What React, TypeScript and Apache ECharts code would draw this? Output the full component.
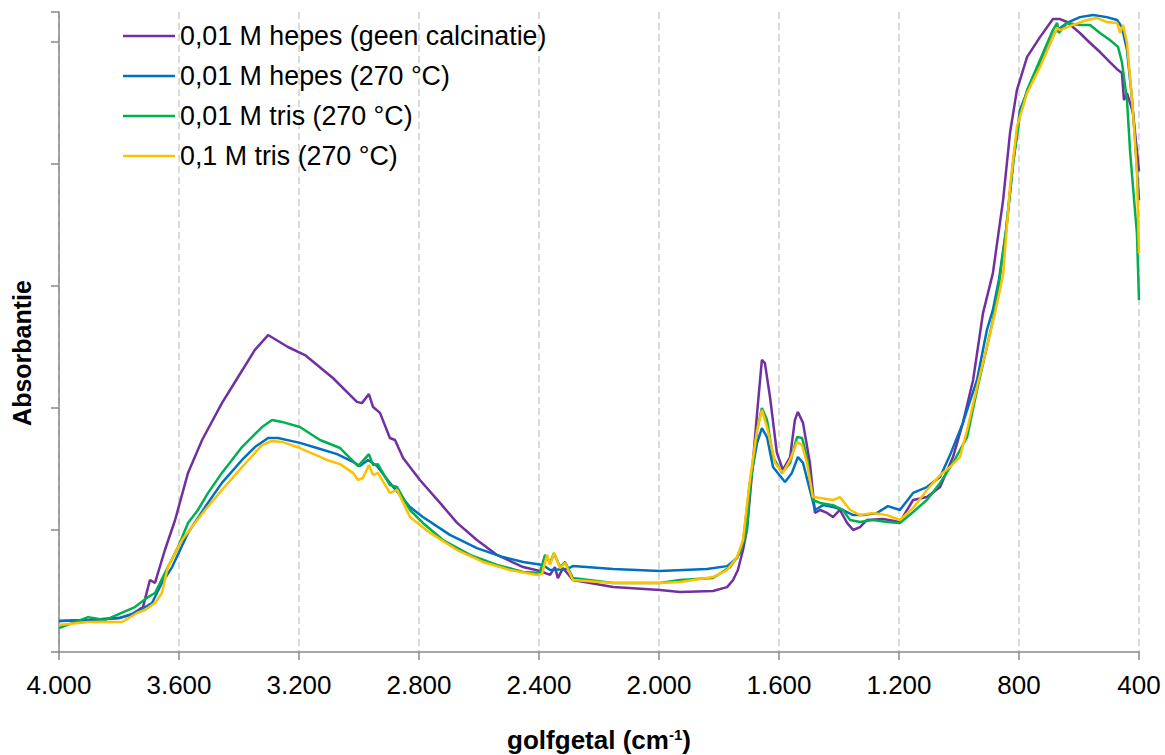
import React, { useEffect, useRef } from "react";
import * as echarts from "echarts";

const FONT = '"Liberation Sans", Arial, sans-serif';

const seriesNames = [
  "0,01 M hepes (geen calcinatie)",
  "0,01 M hepes (270 °C)",
  "0,01 M tris (270 °C)",
  "0,1 M tris (270 °C)",
];
const seriesColors = ["#7030A0", "#0070C0", "#00B050", "#FFC000"];

const xTicks = [4000, 3600, 3200, 2800, 2400, 2000, 1600, 1200, 800, 400];

// [wavenumber (cm-1), absorbance]
const hepesGeen: number[][] = [
  [4000, 0.127], [3900, 0.131], [3800, 0.139], [3760, 0.152], [3720, 0.184],
  [3697, 0.295], [3680, 0.283], [3647, 0.418], [3613, 0.541], [3570, 0.734],
  [3523, 0.869], [3457, 1.02], [3403, 1.127], [3347, 1.238], [3303, 1.299],
  [3237, 1.25], [3180, 1.217], [3087, 1.123], [3007, 1.025], [2990, 1.02],
  [2967, 1.057], [2953, 1.004], [2930, 0.98], [2897, 0.877], [2880, 0.869],
  [2853, 0.795], [2797, 0.705], [2730, 0.611], [2673, 0.529], [2607, 0.459],
  [2540, 0.398], [2453, 0.348], [2397, 0.332], [2363, 0.316], [2347, 0.348],
  [2337, 0.303], [2320, 0.344], [2287, 0.295], [2153, 0.266], [1997, 0.254],
  [1930, 0.246], [1820, 0.25], [1773, 0.266], [1753, 0.295], [1737, 0.336],
  [1720, 0.418], [1707, 0.5], [1697, 0.635], [1673, 0.98], [1657, 1.197],
  [1647, 1.184], [1630, 1.045], [1607, 0.816], [1587, 0.746], [1563, 0.799],
  [1547, 0.951], [1537, 0.984], [1520, 0.939], [1497, 0.775], [1480, 0.57],
  [1463, 0.582], [1440, 0.57], [1420, 0.553], [1397, 0.582], [1373, 0.529],
  [1353, 0.5], [1330, 0.512], [1307, 0.541], [1253, 0.545], [1197, 0.533],
  [1153, 0.623], [1107, 0.635], [1063, 0.676], [1020, 0.799], [987, 0.939],
  [953, 1.115], [920, 1.389], [887, 1.553], [853, 1.852], [830, 2.127],
  [807, 2.303], [773, 2.439], [730, 2.52], [687, 2.594], [663, 2.594],
  [640, 2.582], [597, 2.537], [563, 2.496], [530, 2.459], [497, 2.418],
  [470, 2.385], [457, 2.373], [450, 2.262], [440, 2.291], [420, 2.209],
  [407, 2.057], [400, 1.97],
];

const hepes270: number[][] = [
  [4000, 0.127], [3900, 0.131], [3800, 0.139], [3747, 0.16], [3690, 0.201],
  [3657, 0.283], [3623, 0.348], [3570, 0.488], [3513, 0.594], [3457, 0.693],
  [3390, 0.787], [3347, 0.84], [3303, 0.877], [3270, 0.877], [3197, 0.857],
  [3140, 0.836], [3073, 0.811], [3020, 0.779], [2997, 0.762], [2970, 0.787],
  [2940, 0.762], [2897, 0.693], [2830, 0.594], [2787, 0.553], [2697, 0.48],
  [2607, 0.426], [2520, 0.389], [2453, 0.369], [2387, 0.357], [2363, 0.336],
  [2307, 0.34], [2287, 0.352], [2153, 0.34], [1997, 0.332], [1840, 0.34],
  [1773, 0.352], [1740, 0.385], [1720, 0.447], [1697, 0.693], [1673, 0.857],
  [1657, 0.918], [1640, 0.881], [1620, 0.758], [1580, 0.697], [1557, 0.734],
  [1537, 0.799], [1520, 0.775], [1497, 0.664], [1480, 0.582], [1453, 0.602],
  [1420, 0.594], [1387, 0.582], [1353, 0.561], [1320, 0.561], [1273, 0.57],
  [1237, 0.598], [1197, 0.582], [1153, 0.652], [1107, 0.676], [1063, 0.717],
  [1030, 0.807], [987, 0.939], [940, 1.115], [907, 1.32], [887, 1.402],
  [867, 1.525], [843, 1.73], [820, 2.0], [797, 2.221], [753, 2.357],
  [707, 2.467], [680, 2.541], [640, 2.578], [597, 2.602], [553, 2.611],
  [507, 2.602], [473, 2.59], [457, 2.561], [440, 2.467], [423, 2.262],
  [413, 2.098], [400, 1.852],
];

const tris001: number[][] = [
  [4000, 0.098], [3903, 0.143], [3847, 0.131], [3747, 0.184], [3703, 0.225],
  [3680, 0.242], [3647, 0.324], [3603, 0.43], [3570, 0.529], [3537, 0.582],
  [3503, 0.652], [3457, 0.734], [3390, 0.84], [3323, 0.922], [3290, 0.951],
  [3257, 0.943], [3197, 0.922], [3130, 0.869], [3063, 0.836], [3003, 0.762],
  [2967, 0.811], [2953, 0.766], [2937, 0.77], [2897, 0.684], [2873, 0.676],
  [2830, 0.582], [2787, 0.529], [2720, 0.459], [2630, 0.398], [2540, 0.357],
  [2453, 0.328], [2397, 0.324], [2380, 0.398], [2363, 0.365], [2350, 0.406],
  [2330, 0.348], [2313, 0.369], [2287, 0.303], [2153, 0.283], [1997, 0.283],
  [1930, 0.295], [1820, 0.303], [1763, 0.348], [1730, 0.406], [1707, 0.5],
  [1697, 0.664], [1673, 0.91], [1657, 1.0], [1640, 0.951], [1620, 0.799],
  [1590, 0.734], [1563, 0.775], [1540, 0.881], [1523, 0.877], [1507, 0.799],
  [1487, 0.623], [1463, 0.611], [1420, 0.602], [1387, 0.582], [1363, 0.541],
  [1330, 0.533], [1287, 0.541], [1240, 0.533], [1197, 0.529], [1153, 0.574],
  [1107, 0.623], [1063, 0.693], [1020, 0.775], [973, 0.881], [940, 1.074],
  [907, 1.25], [887, 1.361], [867, 1.504], [843, 1.73], [820, 2.0],
  [797, 2.201], [773, 2.303], [730, 2.426], [687, 2.549], [673, 2.578],
  [667, 2.537], [640, 2.578], [597, 2.57], [563, 2.57], [530, 2.537],
  [497, 2.508], [470, 2.48], [457, 2.418], [440, 2.262], [430, 2.057],
  [420, 1.906], [407, 1.717], [400, 1.443],
];

const tris01: number[][] = [
  [4000, 0.111], [3903, 0.123], [3790, 0.123], [3740, 0.16], [3713, 0.172],
  [3680, 0.201], [3657, 0.242], [3637, 0.348], [3590, 0.459], [3557, 0.512],
  [3513, 0.582], [3457, 0.664], [3390, 0.758], [3323, 0.848], [3290, 0.865],
  [3257, 0.861], [3197, 0.836], [3107, 0.787], [3063, 0.77], [3020, 0.734],
  [3003, 0.705], [2987, 0.713], [2967, 0.766], [2953, 0.725], [2937, 0.734],
  [2897, 0.652], [2873, 0.664], [2830, 0.553], [2763, 0.488], [2673, 0.418],
  [2587, 0.369], [2497, 0.336], [2407, 0.316], [2390, 0.32], [2373, 0.398],
  [2363, 0.357], [2350, 0.406], [2330, 0.344], [2313, 0.365], [2287, 0.295],
  [2153, 0.283], [1997, 0.283], [1930, 0.287], [1820, 0.307], [1773, 0.336],
  [1740, 0.389], [1720, 0.459], [1697, 0.705], [1673, 0.91], [1657, 0.992],
  [1640, 0.922], [1613, 0.775], [1587, 0.734], [1563, 0.787], [1540, 0.861],
  [1523, 0.848], [1507, 0.775], [1487, 0.635], [1463, 0.631], [1420, 0.623],
  [1397, 0.635], [1363, 0.582], [1330, 0.561], [1287, 0.57], [1240, 0.561],
  [1197, 0.541], [1153, 0.59], [1107, 0.664], [1063, 0.725], [1030, 0.758],
  [997, 0.799], [973, 0.91], [940, 1.086], [907, 1.25], [880, 1.389],
  [853, 1.545], [830, 1.906], [807, 2.152], [773, 2.291], [730, 2.398],
  [687, 2.52], [673, 2.557], [663, 2.549], [620, 2.57], [573, 2.59],
  [540, 2.598], [507, 2.582], [473, 2.578], [463, 2.537], [453, 2.57],
  [440, 2.496], [423, 2.262], [413, 2.086], [407, 1.963], [400, 1.635],
];

const seriesData = [hepesGeen, hepes270, tris001, tris01];

function fmtWn(v: number): string {
  if (v >= 1000) {
    const th = Math.floor(v / 1000);
    const rest = String(Math.round(v % 1000)).padStart(3, "0");
    return `${th}.${rest}`;
  }
  return String(v);
}

export default function App() {
  const ref = useRef<HTMLDivElement>(null);
  useEffect(() => {
    if (!ref.current) return;
    const chart = echarts.init(ref.current, undefined, { renderer: "svg" });
    const axisColor = "#898989";
    chart.setOption({
      animation: false,
      backgroundColor: "#ffffff",
      textStyle: { fontFamily: FONT },
      grid: {
        left: 59,
        right: 26,
        top: 12,
        bottom: 103,
        containLabel: false,
        outerBoundsMode: "none",
      },
      legend: {
        orient: "vertical",
        left: 123,
        top: 21,
        padding: 0,
        icon: "rect",
        itemWidth: 52,
        itemHeight: 2.5,
        itemGap: 10,
        data: seriesNames,
        textStyle: { fontSize: 26.8, color: "#000", fontFamily: FONT, lineHeight: 30 },
      },
      xAxis: {
        type: "value",
        inverse: true,
        min: xTicks[xTicks.length - 1],
        max: xTicks[0],
        interval: 400,
        name: "golfgetal (cm{sup|-1})",
        nameLocation: "middle",
        nameGap: 75,
        nameTextStyle: {
          fontSize: 26,
          fontWeight: "bold",
          color: "#000",
          fontFamily: FONT,
          rich: {
            sup: { fontSize: 15, fontWeight: "bold", color: "#000", fontFamily: FONT, verticalAlign: "top" },
          },
        },
        axisLine: { show: true, lineStyle: { color: axisColor, width: 1.5 } },
        axisTick: { show: true, length: 8, inside: false, lineStyle: { color: axisColor, width: 1.5 } },
        axisLabel: { fontSize: 26, color: "#000", margin: 20, fontFamily: FONT, formatter: (v: number) => fmtWn(v) },
        splitLine: { show: true, lineStyle: { color: "#cfcfcf", width: 1.5, type: [7, 4] } },
      },
      yAxis: {
        type: "value",
        min: 0,
        max: 2.623,
        interval: 0.5,
        axisLine: { show: true, lineStyle: { color: axisColor, width: 1.5 } },
        axisTick: { show: true, length: 8, inside: false, lineStyle: { color: axisColor, width: 1.5 } },
        axisLabel: { show: false },
        splitLine: { show: false },
      },
      graphic: [
        {
          type: "text",
          x: 22,
          y: 353,
          rotation: Math.PI / 2,
          style: {
            text: "Absorbantie",
            font: `bold 25px ${FONT}`,
            fill: "#000",
            textAlign: "center",
            textVerticalAlign: "middle",
          },
        },
      ],
      series: seriesData.map((d, i) => ({
        name: seriesNames[i],
        type: "line",
        data: d,
        symbol: "none",
        showSymbol: false,
        smooth: false,
        lineStyle: { color: seriesColors[i], width: 2.5 },
        itemStyle: { color: seriesColors[i] },
        z: 2 + i,
      })),
    });
    return () => chart.dispose();
  }, []);
  return (
    <div
      ref={ref}
      style={{ position: "absolute", left: 0, top: 0, width: 1165, height: 755 }}
    />
  );
}
